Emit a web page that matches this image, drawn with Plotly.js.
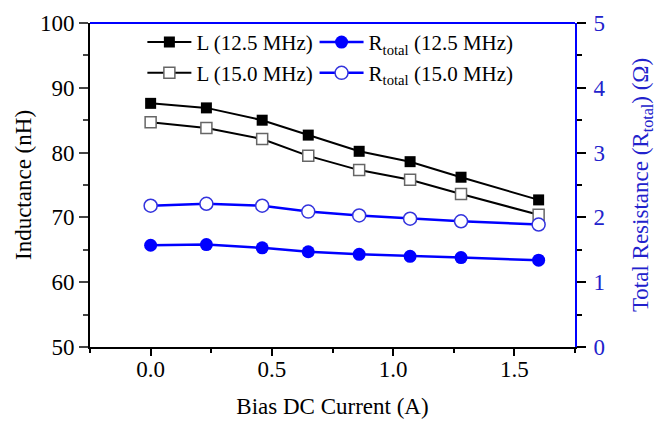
<!DOCTYPE html>
<html><head><meta charset="utf-8">
<script src="https://cdn.plot.ly/plotly-3.0.1.min.js"></script>
<style>html,body{margin:0;padding:0;background:#fff}#chart{width:659px;height:422px}</style>
</head><body><div id="chart"></div>
<script>
const current = [0, 0.23, 0.46, 0.65, 0.86, 1.07, 1.28, 1.6];
const L125 = [87.6, 86.9, 85.0, 82.7, 80.2, 78.6, 76.2, 72.7];
const L150 = [84.7, 83.8, 82.1, 79.5, 77.3, 75.8, 73.6, 70.4];
const R125 = [1.57, 1.58, 1.53, 1.47, 1.43, 1.40, 1.38, 1.34];
const R150 = [2.18, 2.21, 2.18, 2.09, 2.03, 1.98, 1.94, 1.89];
const names = ['L (12.5 MHz)', 'R<sub>total</sub> (12.5 MHz)', 'L (15.0 MHz)', 'R<sub>total</sub> (15.0 MHz)'];

const serif = 'Liberation Serif, Times New Roman, serif';
const blue = '#0000ff';
const traces = [
  // invisible helper so the tick-mark axis (x2) is drawn
  {x: current, y: L125, xaxis: 'x2', yaxis: 'y', mode: 'lines', opacity: 0, line: {width: 0},
   showlegend: false, hoverinfo: 'skip'},
  {x: current, y: L125, name: names[0], yaxis: 'y', legend: 'legend', mode: 'lines+markers',
   line: {color: '#000', width: 2}, marker: {symbol: 'square', size: 11, color: '#000'}},
  {x: current, y: R125, name: names[1], yaxis: 'y2', legend: 'legend2', mode: 'lines+markers',
   line: {color: blue, width: 2.5}, marker: {symbol: 'circle', size: 13, color: blue}},
  {x: current, y: L150, name: names[2], yaxis: 'y', legend: 'legend3', mode: 'lines+markers',
   line: {color: '#000', width: 2}, marker: {symbol: 'square', size: 11, color: '#fff', line: {color: '#666', width: 1.5}}},
  {x: current, y: R150, name: names[3], yaxis: 'y2', legend: 'legend4', mode: 'lines+markers',
   line: {color: blue, width: 2.5}, marker: {symbol: 'circle', size: 13, color: '#fff', line: {color: '#3333dd', width: 1.5}}}
];
const legendBase = {orientation: 'h', xanchor: 'left', yanchor: 'middle', bgcolor: 'rgba(0,0,0,0)',
  font: {family: serif, size: 21, color: '#000'}, itemwidth: 44, itemclick: false};
const col1 = 0.108, col2 = 0.463, row1 = 0.94, row2 = 0.845;
const xRange = [-0.25, 1.75];
const layout = {
  width: 659, height: 422,
  margin: {l: 90, r: 84, t: 23, b: 75},
  paper_bgcolor: '#fff', plot_bgcolor: '#fff',
  font: {family: serif, size: 23, color: '#000'},
  showlegend: true,
  legend: Object.assign({}, legendBase, {x: col1, y: row1}),
  legend2: Object.assign({}, legendBase, {x: col2, y: row1}),
  legend3: Object.assign({}, legendBase, {x: col1, y: row2}),
  legend4: Object.assign({}, legendBase, {x: col2, y: row2}),
  xaxis: {range: xRange, dtick: 0.5, tick0: 0, tickformat: '.1f', ticks: '',
    showline: true, linecolor: '#000', linewidth: 2,
    showgrid: false, zeroline: false, tickfont: {family: serif, size: 23, color: '#000'},
    title: {text: 'Bias DC Current (A)', font: {family: serif, size: 23, color: '#000'}, standoff: 17}},
  xaxis2: {range: xRange, overlaying: 'x', anchor: 'y', side: 'bottom', dtick: 0.5, tick0: 0,
    ticks: 'outside', ticklen: 8, tickwidth: 2, tickcolor: '#000', showticklabels: false,
    minor: {dtick: 0.25, ticks: 'outside', ticklen: 5, tickwidth: 2, tickcolor: '#000'},
    showline: false, showgrid: false, zeroline: false},
  yaxis: {range: [50, 100], dtick: 10, ticks: 'outside', ticklen: 9, tickwidth: 2,
    minor: {dtick: 5, ticks: 'outside', ticklen: 5, tickwidth: 2}, showline: true, linecolor: '#000', linewidth: 2,
    showgrid: false, zeroline: false, tickfont: {family: serif, size: 23, color: '#000'},
    title: {text: 'Inductance (nH)', font: {family: serif, size: 23, color: '#000'}, standoff: 2}},
  yaxis2: {range: [0, 5], dtick: 1, overlaying: 'y', side: 'right', ticks: 'outside', ticklen: 9, tickwidth: 2,
    tickcolor: '#000',
    minor: {dtick: 0.5, ticks: 'outside', ticklen: 5, tickwidth: 2, tickcolor: '#000'}, showline: true, linecolor: blue, linewidth: 2,
    showgrid: false, zeroline: false, tickfont: {family: serif, size: 23, color: '#2222cc'}, ticklabelstandoff: 3,
    title: {text: 'Total Resistance (R<sub>total</sub>) (Ω)', font: {family: serif, size: 23, color: '#2222cc'}, standoff: 27}},
  shapes: [{type: 'line', xref: 'paper', yref: 'paper', x0: 0, x1: 1, y0: 1, y1: 1, line: {color: blue, width: 2}}]
};
Plotly.newPlot('chart', traces, layout, {displayModeBar: false, staticPlot: true});
</script></body></html>
